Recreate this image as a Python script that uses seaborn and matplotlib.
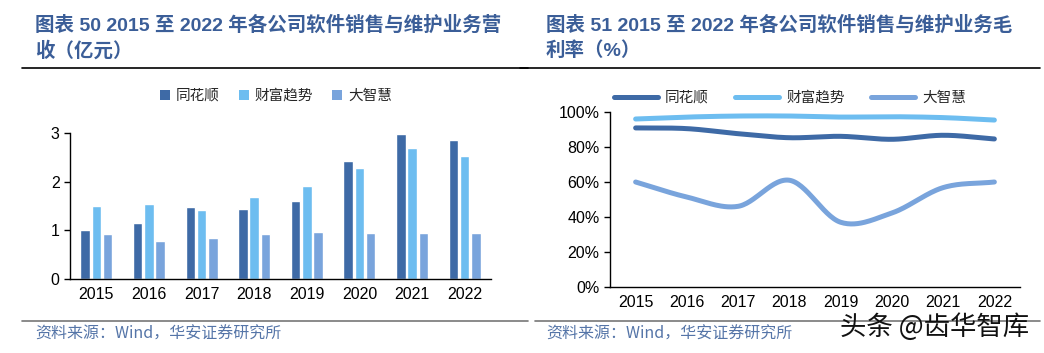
import numpy as np
import pandas as pd
import seaborn as sns
import matplotlib
import matplotlib.pyplot as plt
from matplotlib.lines import Line2D
from matplotlib.patches import Patch

matplotlib.use('Agg')

# data
years = ["2015", "2016", "2017", "2018", "2019", "2020", "2021", "2022"]
companies = ["同花顺", "财富趋势", "大智慧"]
rev_ths = [1.00, 1.15, 1.48, 1.43, 1.61, 2.43, 2.98, 2.86]
rev_cfqs = [1.49, 1.54, 1.42, 1.68, 1.91, 2.28, 2.70, 2.53]
rev_dzh = [0.93, 0.79, 0.84, 0.93, 0.97, 0.95, 0.94, 0.94]
gm_ths = [90.9, 90.5, 87.6, 85.3, 86.1, 84.4, 86.7, 84.6]
gm_cfqs = [96.0, 97.1, 97.7, 97.7, 97.1, 97.3, 96.8, 95.4]
gm_dzh = [60.0, 51.4, 46.1, 61.0, 37.0, 42.3, 56.8, 60.0]

colors = ["#3E6AA6", "#6DBDF0", "#79A4DC"]
title_color = "#3B5E98"
src_color = "#5575A8"

sns.set_theme(style="white")
fam = ['Liberation Sans', 'Noto Sans CJK SC', 'DejaVu Sans']
cjk = ['Noto Sans CJK SC', 'DejaVu Sans']
plt.rcParams['font.family'] = fam
plt.rcParams['axes.unicode_minus'] = False

fig = plt.figure(figsize=(10.44, 3.53), dpi=100)
W, H = 1044, 353


def fx(px):
    return px / W


def fy(py):
    return 1 - py / H


def smooth(vals, n=30):
    # Catmull-Rom curve through the points, like an Excel smoothed line
    p = np.asarray(vals, dtype=float)
    pts = np.concatenate([[2 * p[0] - p[1]], p, [2 * p[-1] - p[-2]]])
    xs, ys = [], []
    for i in range(1, len(pts) - 2):
        p0, p1, p2, p3 = pts[i - 1], pts[i], pts[i + 1], pts[i + 2]
        t = np.linspace(0, 1, n, endpoint=False)
        y = 0.5 * ((2 * p1) + (-p0 + p2) * t + (2 * p0 - 5 * p1 + 4 * p2 - p3) * t ** 2
                   + (-p0 + 3 * p1 - 3 * p2 + p3) * t ** 3)
        xs.append(i - 1 + t)
        ys.append(y)
    xs.append([len(p) - 1])
    ys.append([p[-1]])
    return np.concatenate(xs), np.concatenate(ys)


def style_axes(ax):
    for s in ["top", "right"]:
        ax.spines[s].set_visible(False)
    for s in ["left", "bottom"]:
        ax.spines[s].set_color("black")
        ax.spines[s].set_linewidth(1.0)
    ax.set_xlim(-0.5, len(years) - 0.5)
    ax.set_xticks(range(len(years)))
    ax.set_xticklabels(years, fontsize=11.5, color="black")
    ax.set_xticks(np.arange(-0.5, len(years)), minor=True)
    ax.tick_params(axis="x", which="major", length=0, pad=6)
    ax.tick_params(axis="x", which="minor", length=4, width=1, color="black", direction="out")
    ax.tick_params(axis="y", length=4, width=1, color="black", direction="out",
                   labelsize=11.5, labelcolor="black", left=True)
    ax.set_xlabel("")
    ax.set_ylabel("")
    ax.grid(False)


# left: revenue bars
ax1 = fig.add_axes([fx(70), fy(279), fx(491 - 70), (279 - 133) / H])
df = pd.DataFrame({
    "year": years * 3,
    "company": [c for c in companies for _ in years],
    "value": rev_ths + rev_cfqs + rev_dzh,
})
sns.barplot(data=df, x="year", y="value", hue="company", hue_order=companies,
            palette=colors, width=0.64, gap=0.15, saturation=1, legend=False, ax=ax1)
ax1.set_ylim(0, 3)
ax1.set_yticks([0, 1, 2, 3])
ax1.set_yticklabels(["0", "1", "2", "3"])
style_axes(ax1)

handles = [Patch(facecolor=c, edgecolor="none") for c in colors]
fig.legend(handles, companies, loc="center", bbox_to_anchor=(fx(276), fy(96)), ncol=3,
           frameon=False, handlelength=0.7, handleheight=0.7, handletextpad=0.4,
           columnspacing=1.3, prop={'family': cjk, 'size': 10.5})

# right: gross margin lines
ax2 = fig.add_axes([fx(610), fy(287), fx(1020 - 610), (287 - 112) / H])
for vals, c in zip([gm_ths, gm_cfqs, gm_dzh], colors):
    sx, sy = smooth(vals)
    ax2.plot(sx, sy, color=c, lw=3.6, solid_capstyle="round")
ax2.set_ylim(0, 100)
ax2.set_yticks(range(0, 101, 20))
ax2.set_yticklabels([f"{v}%" for v in range(0, 101, 20)])
style_axes(ax2)

lh = [Line2D([0], [0], color=c, lw=3.6, solid_capstyle="round") for c in colors]
fig.legend(lh, companies, loc="center", bbox_to_anchor=(fx(790), fy(98)), ncol=3,
           frameon=False, handlelength=3.0, handletextpad=0.5, columnspacing=1.8,
           prop={'family': cjk, 'size': 10.5})

# titles
tkw = dict(fontsize=14, fontweight="bold", color=title_color, va="center", ha="left")
fig.text(fx(35), fy(25), "图表 50 2015 至 2022 年各公司软件销售与维护业务营", **tkw)
fig.text(fx(35), fy(51), "收（亿元）", **tkw)
fig.text(fx(546), fy(25), "图表 51 2015 至 2022 年各公司软件销售与维护业务毛", **tkw)
fig.text(fx(546), fy(51), "利率（%）", **tkw)

# rules
fig.add_artist(Line2D([fx(22), fx(528)], [fy(68), fy(68)], color="black", lw=1.2))
fig.add_artist(Line2D([fx(520), fx(1040)], [fy(68), fy(68)], color="black", lw=1.2))
fig.add_artist(Line2D([fx(22), fx(528)], [fy(321), fy(321)], color="#777777", lw=1.2))
fig.add_artist(Line2D([fx(535), fx(1040)], [fy(321), fy(321)], color="#777777", lw=1.2))

# sources
fig.text(fx(35), fy(334), "资料来源：Wind，华安证券研究所", fontsize=11.5, color=src_color,
         va="center", ha="left", family=cjk)
fig.text(fx(546), fy(334), "资料来源：Wind，华安证券研究所", fontsize=11.5, color=src_color,
         va="center", ha="left", family=cjk)
fig.text(fx(840), fy(327), "头条 @齿华智库", fontsize=19, color="#111111",
         va="center", ha="left", family=cjk)

fig.savefig("out.png", dpi=100)
